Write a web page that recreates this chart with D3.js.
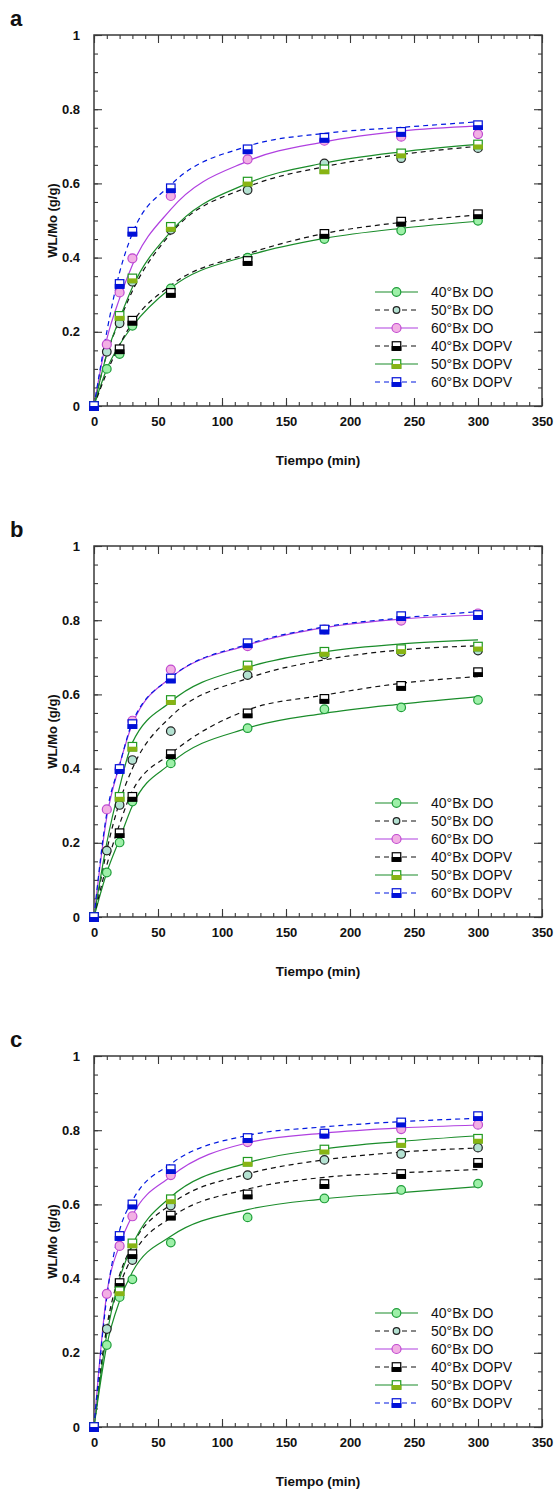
<!DOCTYPE html>
<html>
<head>
<meta charset="utf-8">
<script src="https://cdn.jsdelivr.net/npm/d3@7"></script>
<style>body{margin:0;background:#fff}</style>
</head>
<body>
<div id="chart"></div>
<script>
// -------------------- DATA --------------------

const times = [0, 10, 20, 30, 60, 120, 180, 240, 300];
const timesPV = [0, 20, 30, 60, 120, 180, 240, 300];   // DOPV runs have no 10 min sample
const seriesNames = ["40°Bx DO", "50°Bx DO", "60°Bx DO", "40°Bx DOPV", "50°Bx DOPV", "60°Bx DOPV"];
const panelLetters = ["a", "b", "c"];
const xTicks = [0, 50, 100, 150, 200, 250, 300, 350];
const yTicks = [0, 0.2, 0.4, 0.6, 0.8, 1];

// panel a, measured points
const a40DO   = [0, 0.100, 0.140, 0.216, 0.317, 0.400, 0.450, 0.473, 0.499];
const a50DO   = [0, 0.146, 0.223, 0.335, 0.475, 0.582, 0.654, 0.668, 0.695];
const a60DO   = [0, 0.166, 0.306, 0.398, 0.566, 0.665, 0.715, 0.726, 0.733];
const a40DOPV = [0, 0.153, 0.230, 0.305, 0.391, 0.464, 0.497, 0.517];
const a50DOPV = [0, 0.243, 0.344, 0.483, 0.605, 0.638, 0.681, 0.705];
const a60DOPV = [0, 0.329, 0.470, 0.587, 0.692, 0.723, 0.739, 0.757];
// panel a, fitted curves (read at the sample times)
const a40DOfit   = [0, 0.100, 0.165, 0.215, 0.318, 0.405, 0.452, 0.479, 0.498];
const a50DOfit   = [0, 0.140, 0.230, 0.310, 0.465, 0.590, 0.645, 0.678, 0.700];
const a60DOfit   = [0, 0.180, 0.290, 0.380, 0.530, 0.660, 0.712, 0.741, 0.755];
const a40DOPVfit = [0, 0.090, 0.165, 0.225, 0.325, 0.410, 0.465, 0.495, 0.515];
const a50DOPVfit = [0, 0.140, 0.235, 0.320, 0.470, 0.600, 0.655, 0.685, 0.705];
const a60DOPVfit = [0, 0.200, 0.360, 0.465, 0.596, 0.700, 0.735, 0.751, 0.766];

// panel b
const b40DO   = [0, 0.120, 0.201, 0.311, 0.414, 0.509, 0.560, 0.565, 0.585];
const b50DO   = [0, 0.179, 0.302, 0.423, 0.501, 0.652, 0.708, 0.715, 0.718];
const b60DO   = [0, 0.290, 0.400, 0.529, 0.667, 0.730, 0.775, 0.799, 0.818];
const b40DOPV = [0, 0.226, 0.324, 0.439, 0.549, 0.588, 0.623, 0.660];
const b50DOPV = [0, 0.324, 0.459, 0.585, 0.678, 0.715, 0.722, 0.729];
const b60DOPV = [0, 0.399, 0.520, 0.643, 0.738, 0.775, 0.811, 0.814];
const b40DOfit   = [0, 0.120, 0.210, 0.300, 0.414, 0.509, 0.549, 0.574, 0.594];
const b50DOfit   = [0, 0.180, 0.310, 0.400, 0.540, 0.643, 0.693, 0.720, 0.731];
const b60DOfit   = [0, 0.270, 0.410, 0.520, 0.645, 0.733, 0.780, 0.803, 0.814];
const b40DOPVfit = [0, 0.140, 0.250, 0.340, 0.440, 0.558, 0.598, 0.630, 0.648];
const b50DOPVfit = [0, 0.200, 0.350, 0.470, 0.580, 0.673, 0.715, 0.736, 0.747];
const b60DOPVfit = [0, 0.280, 0.410, 0.525, 0.645, 0.735, 0.782, 0.806, 0.823];

// panel c
const c40DO   = [0, 0.221, 0.350, 0.398, 0.497, 0.565, 0.616, 0.639, 0.656];
const c50DO   = [0, 0.264, 0.370, 0.450, 0.597, 0.679, 0.720, 0.736, 0.753];
const c60DO   = [0, 0.359, 0.488, 0.568, 0.679, 0.768, 0.790, 0.803, 0.815];
const c40DOPV = [0, 0.388, 0.466, 0.570, 0.627, 0.655, 0.682, 0.712];
const c50DOPV = [0, 0.366, 0.495, 0.614, 0.715, 0.748, 0.766, 0.777];
const c60DOPV = [0, 0.515, 0.600, 0.695, 0.779, 0.791, 0.821, 0.838];
const c40DOfit   = [0, 0.220, 0.340, 0.418, 0.514, 0.586, 0.615, 0.632, 0.648];
const c50DOfit   = [0, 0.270, 0.410, 0.490, 0.600, 0.682, 0.720, 0.741, 0.752];
const c60DOfit   = [0, 0.360, 0.490, 0.570, 0.675, 0.766, 0.792, 0.806, 0.814];
const c40DOPVfit = [0, 0.260, 0.380, 0.460, 0.564, 0.641, 0.673, 0.685, 0.694];
const c50DOPVfit = [0, 0.250, 0.400, 0.490, 0.620, 0.712, 0.750, 0.770, 0.785];
const c60DOPVfit = [0, 0.350, 0.530, 0.610, 0.709, 0.786, 0.809, 0.823, 0.832];

const panelPoints = [
    [a40DO, a50DO, a60DO, a40DOPV, a50DOPV, a60DOPV],
    [b40DO, b50DO, b60DO, b40DOPV, b50DOPV, b60DOPV],
    [c40DO, c50DO, c60DO, c40DOPV, c50DOPV, c60DOPV]
];
const panelFits = [
    [a40DOfit, a50DOfit, a60DOfit, a40DOPVfit, a50DOPVfit, a60DOPVfit],
    [b40DOfit, b50DOfit, b60DOfit, b40DOPVfit, b50DOPVfit, b60DOPVfit],
    [c40DOfit, c50DOfit, c60DOfit, c40DOPVfit, c50DOPVfit, c60DOPVfit]
];

// -------------------- STYLE --------------------

const styles = [
    { shape: "circle", fill: "#9ef0a8", stroke: "#1f9e3a", line: "#1a8c2a", dash: null, r: 4.3 },
    { shape: "circle", fill: "#b4e2d2", stroke: "#222",    line: "#111",    dash: "5,4", r: 4.3 },
    { shape: "circle", fill: "#f2b0e4", stroke: "#c04ad0", line: "#b040e0", dash: null, r: 4.5 },
    { shape: "square", fill: "#000",    stroke: "#000",    line: "#111",    dash: "5,4" },
    { shape: "square", fill: "#88b414", stroke: "#209a20", line: "#1a8c2a", dash: null },
    { shape: "square", fill: "#0010d8", stroke: "#0010d8", line: "#0018e0", dash: "5,4" }
];

// -------------------- DRAWING --------------------

const width = 556, height = 1492;
const left = 94, right = 542, plotH = 371;
const panelTops = [35, 546, 1056];
const font = "'Liberation Sans', Arial, sans-serif";

const svg = d3.select("#chart").append("svg")
    .attr("width", width)
    .attr("height", height)
    .attr("font-family", font);

function drawMarker(g, st, cx, cy, legend) {
    if (st.shape === "circle") {
        g.append("circle")
            .attr("cx", cx).attr("cy", cy)
            .attr("r", legend && st.dash ? 3.3 : st.r)
            .attr("fill", st.fill)
            .attr("stroke", st.stroke)
            .attr("stroke-width", 1.2);
    } else {
        let s = 8.5;
        g.append("rect")
            .attr("x", cx - s / 2).attr("y", cy - s / 2)
            .attr("width", s).attr("height", s)
            .attr("fill", "#fff")
            .attr("stroke", st.stroke)
            .attr("stroke-width", 1.2);
        g.append("rect")
            .attr("x", cx - s / 2 - 0.6).attr("y", cy)
            .attr("width", s + 1.2).attr("height", s / 2 + 0.6)
            .attr("fill", st.fill);
    }
}

function drawPanel(p) {
    let top = panelTops[p];
    let x = d3.scaleLinear().domain([0, 350]).range([left, right]);
    let y = d3.scaleLinear().domain([0, 1]).range([top + plotH, top]);
    let g = svg.append("g");

    // axes, ticks pointing inward on all four sides
    let axisColor = "#3a3a3a";
    let xMinor = d3.range(0, 351, 10);
    let yMinor = d3.range(0, 21).map(i => i * 0.05);

    let bottom = g.append("g").attr("transform", `translate(0,${y(0)})`);
    bottom.append("g").call(d3.axisBottom(x).tickValues(xMinor).tickSize(-4).tickFormat(""));
    bottom.append("g").call(d3.axisBottom(x).tickValues(xTicks).tickSize(-8).tickPadding(11));
    let topAx = g.append("g").attr("transform", `translate(0,${top})`);
    topAx.append("g").call(d3.axisTop(x).tickValues(xMinor).tickSize(-4).tickFormat(""));
    topAx.append("g").call(d3.axisTop(x).tickValues(xTicks).tickSize(-8).tickFormat(""));
    let leftAx = g.append("g").attr("transform", `translate(${left},0)`);
    leftAx.append("g").call(d3.axisLeft(y).tickValues(yMinor).tickSize(-4).tickFormat(""));
    leftAx.append("g").call(d3.axisLeft(y).tickValues(yTicks).tickSize(-8).tickPadding(14).tickFormat(d => String(d)));
    let rightAx = g.append("g").attr("transform", `translate(${right},0)`);
    rightAx.append("g").call(d3.axisRight(y).tickValues(yMinor).tickSize(-4).tickFormat(""));
    rightAx.append("g").call(d3.axisRight(y).tickValues(yTicks).tickSize(-8).tickFormat(""));

    g.selectAll(".domain").remove();
    g.selectAll(".tick line").attr("stroke", axisColor).attr("stroke-width", 1.1);
    g.selectAll(".tick text")
        .attr("fill", "#111")
        .attr("font-family", font)
        .attr("font-size", 13)
        .attr("font-weight", "bold");

    g.append("rect")
        .attr("x", left).attr("y", top)
        .attr("width", right - left).attr("height", plotH)
        .attr("fill", "none")
        .attr("stroke", axisColor)
        .attr("stroke-width", 1.5);

    // fitted curves
    let line = d3.line()
        .x(d => x(d.t))
        .y(d => y(d.v))
        .curve(d3.curveMonotoneX);

    panelFits[p].forEach((fit, i) => {
        let st = styles[i];
        g.append("path")
            .datum(times.map((t, k) => ({ t: t, v: fit[k] })))
            .attr("d", line)
            .attr("fill", "none")
            .attr("stroke", st.line)
            .attr("stroke-width", 1.2)
            .attr("stroke-dasharray", st.dash);
    });

    // measured points
    panelPoints[p].forEach((vals, i) => {
        let st = styles[i];
        let ts = i < 3 ? times : timesPV;
        let mg = g.append("g");
        vals.forEach((v, k) => drawMarker(mg, st, x(ts[k]), y(v), false));
    });

    // legend
    let lg = g.append("g");
    seriesNames.forEach((name, i) => {
        let st = styles[i];
        let ly = top + 257 + i * 18;
        lg.append("line")
            .attr("x1", 375).attr("x2", 418)
            .attr("y1", ly).attr("y2", ly)
            .attr("stroke", st.line)
            .attr("stroke-width", 1.2)
            .attr("stroke-dasharray", st.dash);
        drawMarker(lg, st, 396.5, ly, true);
        lg.append("text")
            .attr("x", 431).attr("y", ly)
            .attr("dy", "0.36em")
            .attr("font-size", 14)
            .attr("fill", "#111")
            .text(name);
    });

    // titles
    g.append("text")
        .attr("x", (left + right) / 2)
        .attr("y", top + plotH + 59)
        .attr("text-anchor", "middle")
        .attr("font-size", 13.5)
        .attr("font-weight", "bold")
        .attr("fill", "#111")
        .text("Tiempo (min)");

    g.append("text")
        .attr("transform", `translate(57,${top + plotH / 2}) rotate(-90)`)
        .attr("text-anchor", "middle")
        .attr("font-size", 13)
        .attr("font-weight", "bold")
        .attr("fill", "#111")
        .text("WL/Mo (g/g)");

    g.append("text")
        .attr("x", 10)
        .attr("y", top - 9)
        .attr("font-size", 22)
        .attr("font-weight", "bold")
        .attr("fill", "#111")
        .text(panelLetters[p]);
}

for (let p = 0; p < 3; p++) drawPanel(p);
</script>
</body>
</html>
